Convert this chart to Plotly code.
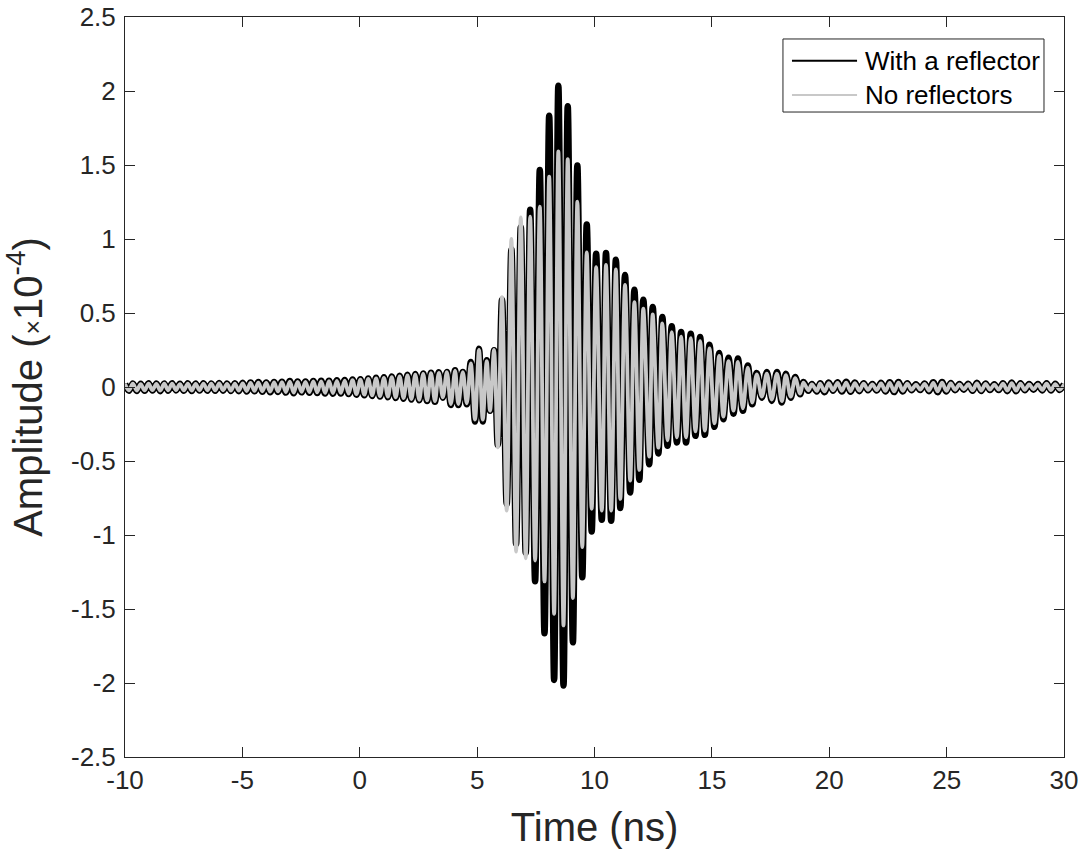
import numpy as np
import plotly.graph_objects as go

# ---------------- data (amplitude in 1e-4) ----------------
# quiet lead-in, alternating extrema from t = -10 ns up to ~3.4 ns
pre_black = [0.022, -0.025, 0.024, -0.027, 0.022, -0.026, 0.025, -0.024, 0.023, -0.028,
             0.024, -0.025, 0.026, -0.023, 0.022, -0.026, 0.025, -0.027, 0.023, -0.024,
             0.026, -0.025, 0.024, -0.026, 0.027, -0.025, 0.023, -0.027, 0.026, -0.028,
             0.028, -0.030, 0.031, -0.029, 0.033, -0.032, 0.030, -0.035, 0.034, -0.033,
             0.036, -0.038, 0.040, -0.042, 0.038, -0.036, 0.037, -0.039, 0.041, -0.040,
             0.042, -0.044, 0.043, -0.045, 0.046, -0.044, 0.047, -0.048, 0.050, -0.052,
             0.053, -0.056, 0.058, -0.060, 0.062, -0.065, 0.066, -0.069, 0.071, -0.074,
             0.076, -0.079, 0.082, -0.085, 0.087, -0.090, 0.092, -0.095, 0.097, -0.100,
             0.100]
pre_gray = [0.020, -0.022, 0.022, -0.024, 0.020, -0.023, 0.022, -0.021, 0.021, -0.024,
            0.022, -0.022, 0.023, -0.021, 0.020, -0.023, 0.022, -0.024, 0.021, -0.022,
            0.023, -0.022, 0.022, -0.023, 0.024, -0.022, 0.021, -0.024, 0.023, -0.025,
            0.025, -0.027, 0.028, -0.026, 0.030, -0.029, 0.027, -0.031, 0.031, -0.030,
            0.033, -0.034, 0.036, -0.038, 0.035, -0.033, 0.034, -0.035, 0.037, -0.036,
            0.038, -0.040, 0.039, -0.041, 0.042, -0.040, 0.043, -0.044, 0.046, -0.048,
            0.049, -0.052, 0.054, -0.056, 0.058, -0.061, 0.062, -0.065, 0.067, -0.070,
            0.072, -0.075, 0.078, -0.081, 0.083, -0.086, 0.088, -0.091, 0.093, -0.096,
            0.096]
pre_start, pre_end = -10.0, 3.37

# main burst: extremum times (ns) and values
burst_t = [3.54, 3.71, 3.88, 4.06, 4.20, 4.39, 4.56, 4.73, 4.91, 5.08,
           5.24, 5.41, 5.55, 5.72, 5.88, 6.06, 6.26, 6.46, 6.66, 6.86,
           7.07, 7.26, 7.47, 7.67, 7.87, 8.07, 8.28, 8.46, 8.68, 8.86,
           9.08, 9.27, 9.48, 9.67, 9.88, 10.07, 10.31, 10.49, 10.71, 10.91,
           11.10, 11.30, 11.52, 11.70, 11.91, 12.08, 12.33, 12.48, 12.72, 12.89,
           13.11, 13.29, 13.51, 13.69, 13.90, 14.10, 14.30, 14.50, 14.70, 14.90,
           15.11, 15.31, 15.49, 15.71, 15.92, 16.11, 16.32, 16.53, 16.72, 16.91,
           17.13, 17.34, 17.55, 17.77, 17.98, 18.15, 18.36, 18.55, 18.76, 18.90,
           19.11, 19.26, 19.47, 19.61, 19.80]
burst_black = [-0.072, 0.102, -0.121, 0.113, -0.121, 0.102, -0.117, 0.169, -0.233, 0.259,
               -0.233, 0.180, -0.161, 0.248, -0.390, 0.590, -0.790, 0.930, -1.060, 1.080,
               -1.120, 1.197, -1.313, 1.467, -1.664, 1.833, -1.979, 2.036, -2.017, 1.897,
               -1.725, 1.496, -1.286, 1.098, -0.976, 0.900, -0.897, 0.905, -0.904, 0.860,
               -0.817, 0.756, -0.713, 0.657, -0.627, 0.590, -0.522, 0.540, -0.449, 0.473,
               -0.397, 0.410, -0.375, 0.372, -0.375, 0.360, -0.330, 0.338, -0.323, 0.286,
               -0.269, 0.230, -0.218, 0.198, -0.180, 0.192, -0.161, 0.146, -0.117, 0.095,
               -0.072, 0.102, -0.094, 0.102, -0.105, 0.090, -0.072, 0.068, -0.049, 0.034,
               -0.026, 0.020, -0.030, 0.025, -0.035]
burst_gray = [-0.070, 0.100, -0.115, 0.110, -0.115, 0.100, -0.110, 0.160, -0.220, 0.250,
              -0.220, 0.175, -0.160, 0.250, -0.408, 0.607, -0.835, 1.000, -1.112, 1.146,
              -1.157, 1.151, -1.173, 1.219, -1.314, 1.421, -1.532, 1.592, -1.611, 1.540,
              -1.426, 1.252, -1.082, 0.910, -0.824, 0.809, -0.835, 0.825, -0.835, 0.794,
              -0.756, 0.690, -0.633, 0.573, -0.560, 0.530, -0.470, 0.490, -0.410, 0.430,
              -0.360, 0.370, -0.340, 0.340, -0.340, 0.330, -0.300, 0.310, -0.295, 0.260,
              -0.245, 0.210, -0.200, 0.175, -0.160, 0.170, -0.145, 0.130, -0.105, 0.085,
              -0.065, 0.090, -0.085, 0.090, -0.095, 0.080, -0.065, 0.060, -0.045, 0.030,
              -0.022, 0.018, -0.026, 0.022, -0.030]

# quiet tail, alternating extrema from ~20 ns to 30 ns
tail_black = [0.030, -0.025, 0.032, -0.030, 0.035, -0.032, 0.030, -0.028, 0.025, -0.022,
              0.020, -0.024, 0.028, -0.030, 0.032, -0.034, 0.033, -0.030, 0.026, -0.022,
              0.018, -0.020, 0.024, -0.028, 0.032, -0.035, 0.034, -0.030, 0.027, -0.022,
              0.020, -0.018, 0.022, -0.026, 0.028, -0.027, 0.024, -0.020, 0.018, -0.021,
              0.025, -0.028, 0.030, -0.029, 0.026, -0.022, 0.020, -0.018, 0.020, -0.023,
              0.025, -0.024, 0.022, -0.020, 0.020]
tail_gray = [0.026, -0.022, 0.028, -0.026, 0.030, -0.028, 0.026, -0.024, 0.022, -0.019,
             0.018, -0.021, 0.024, -0.026, 0.028, -0.030, 0.029, -0.026, 0.023, -0.019,
             0.016, -0.018, 0.021, -0.024, 0.028, -0.030, 0.030, -0.026, 0.024, -0.019,
             0.018, -0.016, 0.019, -0.023, 0.024, -0.024, 0.021, -0.018, 0.016, -0.018,
             0.022, -0.024, 0.026, -0.025, 0.023, -0.019, 0.018, -0.016, 0.018, -0.020,
             0.022, -0.021, 0.019, -0.018, 0.018]
tail_start, tail_end = 19.98, 30.0

series_names = ["With a reflector", "No reflectors"]
x_ticks = [-10, -5, 0, 5, 10, 15, 20, 25, 30]
x_ticktext = ["-10", "-5", "0", "5", "10", "15", "20", "25", "30"]
y_ticks = [-2.5, -2, -1.5, -1, -0.5, 0, 0.5, 1, 1.5, 2, 2.5]
y_ticktext = ["-2.5", "-2", "-1.5", "-1", "-0.5", "0", "0.5", "1", "1.5", "2", "2.5"]

# ---------------- assemble ----------------
t_pre = np.linspace(pre_start, pre_end, len(pre_black))
t_tail = np.linspace(tail_start, tail_end, len(tail_black))
t_all = np.concatenate([t_pre, np.array(burst_t), t_tail])
y_black = np.concatenate([pre_black, burst_black, tail_black])
y_gray = np.concatenate([pre_gray, burst_gray, tail_gray])

TXT = "#262626"
FONT = "Liberation Sans, Arial, Helvetica, sans-serif"

fig = go.Figure()
fig.add_trace(go.Scatter(x=t_all, y=y_black, mode="lines", name=series_names[0],
                         line=dict(color="#000000", width=6.5, shape="spline", smoothing=1),
                         showlegend=False))
fig.add_trace(go.Scatter(x=t_all, y=y_gray, mode="lines", name=series_names[1],
                         line=dict(color="#c8c8c8", width=3.8, shape="spline", smoothing=1),
                         showlegend=False))

# legend drawn as a MATLAB-like box (paper coords of the plot area)
lx0, lx1, ly0, ly1 = 0.7007, 0.9787, 0.8716, 0.9703
fig.add_shape(type="rect", xref="paper", yref="paper", x0=lx0, x1=lx1, y0=ly0, y1=ly1,
              line=dict(color=TXT, width=1), fillcolor="white", layer="above")
for i, (nm, col) in enumerate(zip(series_names, ["#000000", "#c8c8c8"])):
    yy = [0.9410, 0.8946][i]
    fig.add_shape(type="line", xref="paper", yref="paper", x0=0.7103, x1=0.7796, y0=yy, y1=yy,
                  line=dict(color=col, width=2), layer="above")
    fig.add_annotation(xref="paper", yref="paper", x=0.7855, y=yy, text=nm, showarrow=False,
                       xanchor="left", yanchor="middle", font=dict(family=FONT, size=26, color="#000000"))

axis_common = dict(showline=True, linecolor=TXT, linewidth=1, mirror="ticks", ticks="inside",
                   ticklen=10, tickwidth=1, tickcolor=TXT, showgrid=False, zeroline=False,
                   automargin=False, ticklabeloverflow="allow",
                   tickfont=dict(family=FONT, size=26, color=TXT))
fig.update_xaxes(range=[-10, 30], tickvals=x_ticks, ticktext=x_ticktext,
                 title=dict(text="Time (ns)", font=dict(family=FONT, size=40, color=TXT), standoff=18),
                 **axis_common)
fig.update_yaxes(range=[-2.5, 2.5], tickvals=y_ticks, ticktext=y_ticktext, ticklabelstandoff=3,
                 title=dict(text="Amplitude (<span style='font-size:25px'>×</span>10<sup>-4</sup>)",
                            font=dict(family=FONT, size=40, color=TXT), standoff=20),
                 **axis_common)
fig.update_layout(width=1086, height=849, margin=dict(l=125, r=22, t=17, b=92),
                  paper_bgcolor="white", plot_bgcolor="white", showlegend=False)

# remove the browser's default 8 px body margin so the figure sits at the page origin
fig.write_html("out.html", config={"displayModeBar": False},
               post_script="document.body.style.margin='0px';")
